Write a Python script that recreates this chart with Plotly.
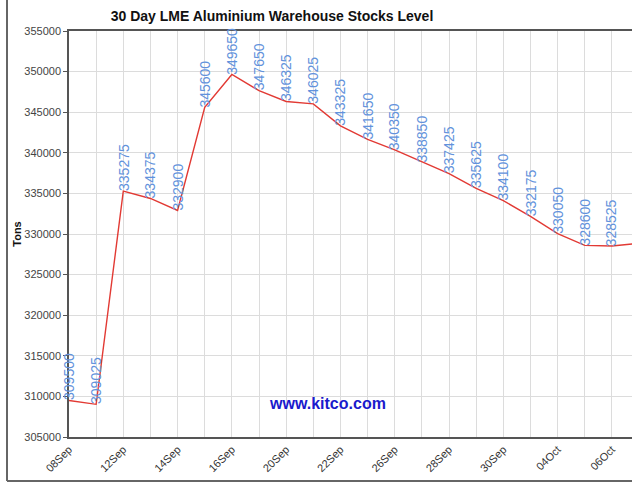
import plotly.graph_objects as go

dates = ["08Sep", "09Sep", "12Sep", "13Sep", "14Sep", "15Sep", "16Sep", "19Sep",
         "20Sep", "21Sep", "22Sep", "23Sep", "26Sep", "27Sep", "28Sep", "29Sep",
         "30Sep", "03Oct", "04Oct", "05Oct", "06Oct", "07Oct"]
stocks = [309500, 309025, 335275, 334375, 332900, 345600, 349650, 347650,
          346325, 346025, 343325, 341650, 340350, 338850, 337425, 335625,
          334100, 332175, 330050, 328600, 328525, 328850]
y_ticks = list(range(305000, 355001, 5000))

idx = list(range(len(dates)))
FONT = "Liberation Sans, Arial, sans-serif"
X_RANGE = [0, 20.74]

fig = go.Figure()
fig.add_trace(go.Scatter(
    x=idx, y=stocks, mode="lines",
    line=dict(color="#e23a34", width=1.4),
    hoverinfo="skip", showlegend=False,
))

annotations = []
for i, v in zip(idx, stocks):
    annotations.append(dict(
        x=(i - X_RANGE[0]) / (X_RANGE[1] - X_RANGE[0]), y=v,
        xref="paper", yref="y", text=str(v), showarrow=False,
        textangle=-90, xanchor="center", yanchor="bottom", yshift=-2,
        font=dict(family=FONT, size=14, color="#6292dc"),
    ))
annotations.append(dict(
    x=(327 - 69) / 563, y=(437 - 414) / 406, xref="paper", yref="paper",
    text="<b>www.kitco.com</b>", showarrow=False,
    font=dict(family=FONT, size=16, color="#1a1acc"),
))

fig.update_layout(
    width=640, height=485,
    margin=dict(l=69, r=8, t=31, b=48, autoexpand=False),
    paper_bgcolor="white", plot_bgcolor="white",
    title=dict(text="<b>30 Day LME Aluminium Warehouse Stocks Level</b>",
               x=272 / 640, xanchor="center", y=1 - 16 / 485, yanchor="middle",
               font=dict(family=FONT, size=14, color="#111")),
    annotations=annotations,
    shapes=[
        dict(type="line", xref="paper", yref="paper",
             x0=(7 - 69) / 563, x1=(7 - 69) / 563,
             y0=(437 - 0) / 406, y1=(437 - 481) / 406,
             line=dict(color="#666", width=2)),
        dict(type="line", xref="paper", yref="paper",
             x0=(7 - 69) / 563, x1=1.0,
             y0=(437 - 481) / 406, y1=(437 - 481) / 406,
             line=dict(color="#666", width=2)),
    ],
)

fig.update_xaxes(
    range=X_RANGE, automargin=False,
    tickmode="array", tickvals=idx,
    ticktext=[d if i % 2 == 0 else "" for i, d in enumerate(dates)],
    tickangle=-45, tickfont=dict(family=FONT, size=11, color="#333"),
    showgrid=True, gridcolor="#dcdcdc", gridwidth=1,
    showline=True, linecolor="#555", linewidth=1.5, mirror=True,
    ticks="", zeroline=False,
)
fig.update_yaxes(
    range=[305000, 355000], automargin=False,
    tickmode="array", tickvals=y_ticks, ticktext=[str(t) for t in y_ticks],
    tickfont=dict(family=FONT, size=11, color="#444"),
    showgrid=True, gridcolor="#dcdcdc", gridwidth=1,
    showline=True, linecolor="#555", linewidth=1.5,
    ticks="outside", ticklen=4, tickcolor="#555",
    zeroline=False,
    title=dict(text="<b>Tons</b>", font=dict(family=FONT, size=11, color="#111"),
               standoff=0),
)

fig.write_html(
    "out.html",
    config={"displayModeBar": False},
    post_script="document.body.style.margin='0';document.body.style.overflow='hidden';",
)
